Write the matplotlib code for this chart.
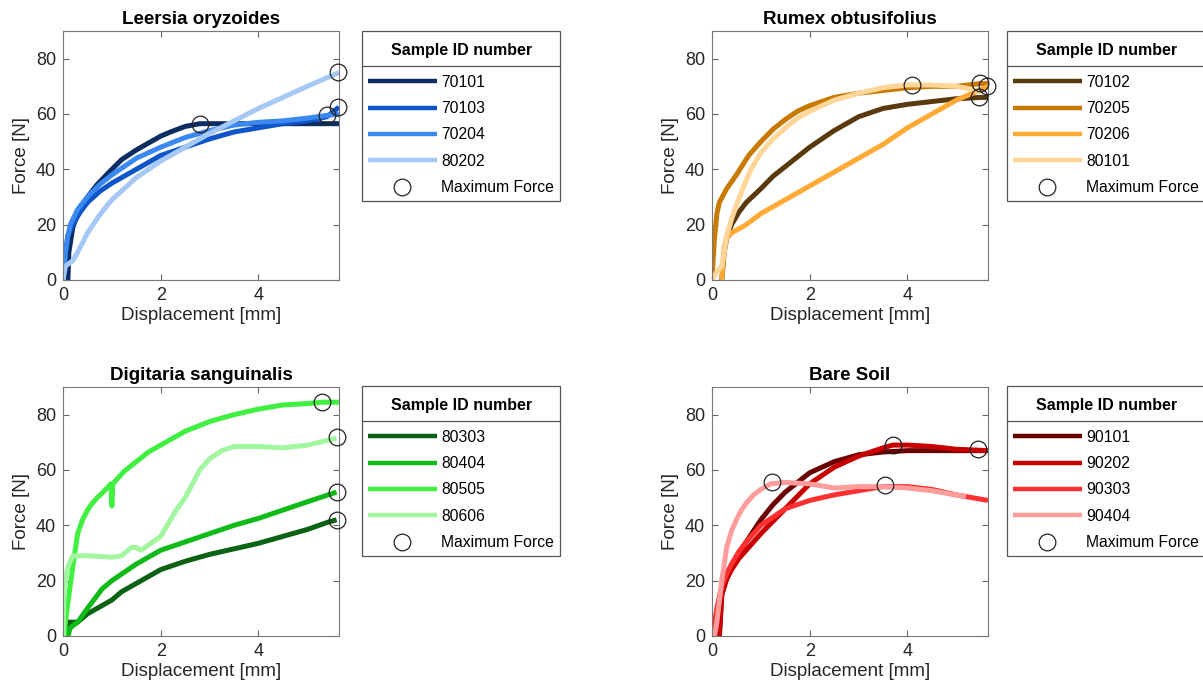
import matplotlib
matplotlib.use('Agg')
import matplotlib.pyplot as plt
from matplotlib.lines import Line2D

plt.rcParams['font.family'] = ['Liberation Sans', 'DejaVu Sans']

# Leersia oryzoides
lo_ids = ['70101', '70103', '70204', '80202']
lo_colors = ['#0b2d62', '#0d55c8', '#3a88f2', '#a6c8f6']
lo_70101_x = [0.1, 0.12, 0.2, 0.3, 0.5, 0.7, 1.0, 1.2, 1.5, 2.0, 2.2, 2.5, 2.8, 3.5, 4.5, 5.65]
lo_70101_y = [0, 10, 19, 24, 30, 34.5, 40, 43.5, 47, 52, 53.5, 55.5, 56.5, 56.5, 56.5, 56.5]
lo_70103_x = [0, 0.05, 0.1, 0.2, 0.35, 0.5, 0.75, 1.0, 1.5, 2.0, 2.5, 3.0, 3.5, 4.0, 4.5, 5.0, 5.4, 5.65]
lo_70103_y = [0, 10, 16, 20, 24.5, 28, 32, 35, 40, 45, 48, 51, 53.5, 55, 56.5, 57.5, 59, 62.5]
lo_70204_x = [0, 0.05, 0.1, 0.15, 0.3, 0.5, 0.75, 1.0, 1.5, 2.0, 2.5, 3.0, 3.5, 4.0, 4.5, 5.0, 5.4, 5.65]
lo_70204_y = [0, 10, 16, 20, 25.5, 30, 34.5, 38, 44, 48, 51.5, 54, 56, 57, 57.5, 58.5, 59.5, 60]
lo_80202_x = [0, 0.05, 0.2, 0.3, 0.4, 0.5, 0.75, 1.0, 1.5, 2.0, 2.5, 3.0, 3.5, 4.0, 4.5, 5.0, 5.65]
lo_80202_y = [0, 5, 7, 10, 13.5, 17, 23.5, 29, 37, 43, 48, 53, 57.5, 62, 66, 70, 75]
lo_max_x = [2.8, 5.63, 5.4, 5.63]
lo_max_y = [56.5, 62.5, 59.5, 75.3]

# Rumex obtusifolius
ro_ids = ['70102', '70205', '70206', '80101']
ro_colors = ['#5a3a0c', '#c87a00', '#ffaa35', '#ffd598']
ro_70102_x = [0.2, 0.25, 0.3, 0.4, 0.55, 0.7, 1.0, 1.25, 1.5, 2.0, 2.5, 3.0, 3.5, 4.0, 4.5, 5.0, 5.5, 5.65]
ro_70102_y = [0, 10, 15, 20, 24.5, 28, 33, 37.5, 41, 48, 54, 59, 62, 63.5, 64.5, 65.5, 66, 66]
ro_70205_x = [0, 0.05, 0.1, 0.15, 0.3, 0.5, 0.75, 1.0, 1.25, 1.5, 1.75, 2.0, 2.5, 3.0, 3.5, 4.0, 4.5, 5.0, 5.5, 5.65]
ro_70205_y = [0, 15, 24, 28, 33, 38, 45, 50, 54.5, 58, 61, 63, 66, 67.5, 68.5, 69.5, 70, 70, 71, 71]
ro_70206_x = [0.2, 0.25, 0.3, 0.4, 0.7, 1.0, 1.5, 2.0, 2.5, 3.0, 3.5, 4.0, 4.5, 5.0, 5.4, 5.65]
ro_70206_y = [0, 12, 15, 17, 20, 24, 29, 34, 39, 44, 49, 55, 60, 65, 68, 70]
ro_80101_x = [0, 0.1, 0.2, 0.25, 0.3, 0.4, 0.5, 0.65, 0.8, 1.0, 1.25, 1.5, 1.75, 2.0, 2.5, 3.0, 3.5, 4.0, 4.5, 5.0, 5.3, 5.5]
ro_80101_y = [0, 3, 5, 10, 16, 22, 27, 34, 40, 46, 51, 55, 58.5, 61, 65, 67.5, 69.5, 70.5, 70.5, 70, 69, 68]
ro_max_x = [5.46, 5.49, 5.63, 4.1]
ro_max_y = [66, 71.2, 70.2, 70.6]

# Digitaria sanguinalis
ds_ids = ['80303', '80404', '80505', '80606']
ds_colors = ['#0a6212', '#10ba18', '#40f040', '#a2f6a0']
ds_80303_x = [0.1, 0.1, 0.3, 0.5, 0.8, 1.0, 1.2, 1.5, 1.7, 2.0, 2.5, 3.0, 3.5, 4.0, 4.5, 5.0, 5.4, 5.6]
ds_80303_y = [0, 5, 5, 8, 11, 13, 16, 19, 21, 24, 27, 29.5, 31.5, 33.5, 36, 38.5, 41, 42]
ds_80404_x = [0.1, 0.15, 0.3, 0.5, 0.8, 1.0, 1.5, 2.0, 2.5, 3.0, 3.5, 4.0, 4.5, 5.0, 5.6]
ds_80404_y = [0, 3, 5, 10, 17, 20, 26, 31, 34, 37, 40, 42.5, 45.5, 48.5, 52]
ds_80505_x = [0.02, 0.05, 0.1, 0.2, 0.3, 0.4, 0.5, 0.6, 0.7, 0.85, 0.98, 1.0, 1.02, 1.25, 1.5, 1.75, 2.0, 2.5, 3.0, 3.5, 4.0, 4.5, 5.0, 5.3, 5.65]
ds_80505_y = [0, 5, 12, 25, 37, 42, 45.5, 48, 50, 52.5, 55, 47, 55, 59.5, 63, 66.5, 69, 74, 77.5, 80, 82, 83.5, 84, 84.5, 84.5]
ds_80606_x = [0, 0.02, 0.05, 0.1, 0.2, 0.5, 1.0, 1.2, 1.4, 1.5, 1.6, 2.0, 2.3, 2.5, 2.8, 3.0, 3.25, 3.5, 4.0, 4.5, 5.0, 5.6]
ds_80606_y = [0, 15, 21, 25, 29, 29, 28.5, 29, 32, 32, 31, 36, 45, 50, 60, 64, 67, 68.5, 68.5, 68, 69, 71.5]
ds_max_x = [5.6, 5.6, 5.3, 5.6]
ds_max_y = [42, 52, 84.5, 71.8]

# Bare Soil
bs_ids = ['90101', '90202', '90303', '90404']
bs_colors = ['#6b0000', '#c80000', '#ff3030', '#ff9c9c']
bs_90101_x = [0.15, 0.2, 0.3, 0.4, 0.55, 0.7, 1.0, 1.25, 1.5, 2.0, 2.5, 3.0, 3.5, 4.0, 4.5, 5.0, 5.65]
bs_90101_y = [0, 15, 21, 25, 30, 34, 42, 47.5, 52, 59, 63, 65.5, 66.5, 67, 67, 67, 67]
bs_90202_x = [0.15, 0.2, 0.3, 0.4, 0.55, 0.7, 1.0, 1.5, 2.0, 2.5, 3.0, 3.5, 3.7, 4.0, 4.5, 5.0, 5.65]
bs_90202_y = [0, 15, 20.5, 24, 28, 31, 37, 46, 55, 61, 65, 68, 69, 69, 68.5, 67.5, 67]
bs_90303_x = [0, 0.05, 0.1, 0.2, 0.3, 0.4, 0.55, 0.7, 1.0, 1.5, 2.0, 2.5, 3.0, 3.5, 4.0, 4.5, 5.0, 5.65]
bs_90303_y = [0, 5, 10, 18, 22.5, 26, 30.5, 34, 40, 46, 49, 51, 52.5, 54, 54, 53, 51, 49]
bs_90404_x = [0.05, 0.1, 0.2, 0.3, 0.4, 0.5, 0.6, 0.7, 0.85, 1.0, 1.2, 1.5, 2.0, 2.5, 3.0, 3.5, 4.0, 4.5, 5.0, 5.2]
bs_90404_y = [0, 5, 20, 32, 38, 42, 45.5, 48, 51, 53, 55, 55.5, 55, 53.5, 54, 54, 53.5, 52.5, 51, 50.5]
bs_max_x = [5.45, 3.7, 3.55, 1.22]
bs_max_y = [67.5, 69.2, 54.5, 55.6]

panels = [
    ('Leersia oryzoides', lo_ids, lo_colors,
     [(lo_70101_x, lo_70101_y), (lo_70103_x, lo_70103_y), (lo_70204_x, lo_70204_y), (lo_80202_x, lo_80202_y)],
     lo_max_x, lo_max_y),
    ('Rumex obtusifolius', ro_ids, ro_colors,
     [(ro_70102_x, ro_70102_y), (ro_70205_x, ro_70205_y), (ro_70206_x, ro_70206_y), (ro_80101_x, ro_80101_y)],
     ro_max_x, ro_max_y),
    ('Digitaria sanguinalis', ds_ids, ds_colors,
     [(ds_80303_x, ds_80303_y), (ds_80404_x, ds_80404_y), (ds_80505_x, ds_80505_y), (ds_80606_x, ds_80606_y)],
     ds_max_x, ds_max_y),
    ('Bare Soil', bs_ids, bs_colors,
     [(bs_90101_x, bs_90101_y), (bs_90202_x, bs_90202_y), (bs_90303_x, bs_90303_y), (bs_90404_x, bs_90404_y)],
     bs_max_x, bs_max_y),
]

W, H = 1203, 695
fig = plt.figure(figsize=(W / 100, H / 100), dpi=100)

# axes boxes in pixels: left, top
ax_pos = [(63, 31), (712, 31), (63, 387), (712, 387)]
leg_pos = [(362, 31), (1007, 31), (362, 386), (1007, 386)]
ax_w, ax_h = 276, 249

legends = []
for (title, ids, colors, curves, mx, my), (l, t), (ll, lt) in zip(panels, ax_pos, leg_pos):
    ax = fig.add_axes([l / W, 1 - (t + ax_h) / H, ax_w / W, ax_h / H])
    for (x, y), c, lab in zip(curves, colors, ids):
        ax.plot(x, y, color=c, lw=3.6, label=lab, solid_capstyle='butt')
    ax.plot(mx, my, 'o', ms=12, mfc='none', mec='#222222', mew=0.9,
            label='Maximum Force', clip_on=False, zorder=5)
    ax.set_xlim(0, 5.65)
    ax.set_ylim(0, 90)
    ax.set_xticks([0, 2, 4])
    ax.set_yticks([0, 20, 40, 60, 80])
    ax.set_title(title, fontsize=13.5, fontweight='bold', pad=5)
    ax.set_xlabel('Displacement [mm]', fontsize=13.5, color='#262626', labelpad=2)
    ax.set_ylabel('Force [N]', fontsize=13.5, color='#262626', labelpad=4)
    ax.tick_params(direction='in', top=True, right=True, length=4, width=0.8,
                   color='#666666', labelcolor='#262626', labelsize=13, pad=5)
    for s in ax.spines.values():
        s.set_color('#777777')
        s.set_linewidth(0.8)
    leg = ax.legend(loc='upper left', bbox_to_anchor=(ll / W, 1 - lt / H),
                    bbox_transform=fig.transFigure, borderaxespad=0,
                    title='\nSample ID number\n', fontsize=11.3,
                    title_fontproperties={'weight': 'bold', 'size': 11.5},
                    handlelength=4.35, handletextpad=0.3, labelspacing=0.72,
                    borderpad=0.4, fancybox=False, framealpha=1, edgecolor='#555555')
    leg.get_title().set_linespacing(0.22)
    leg.get_frame().set_linewidth(0.9)
    for ln in leg.get_lines()[:4]:
        ln.set_linewidth(3.2)
    legends.append(leg)

# divider line under each legend title
fig.canvas.draw()
inv = fig.transFigure.inverted()
for leg in legends:
    fb = leg.get_frame().get_window_extent()
    tb = leg.get_title().get_window_extent()
    eb = leg.get_texts()[0].get_window_extent()
    yd = 0.5 * (0.5 * (tb.y0 + tb.y1) + 0.5 * (eb.y0 + eb.y1))
    p0 = inv.transform((fb.x0, yd))
    p1 = inv.transform((fb.x1, yd))
    fig.add_artist(Line2D([p0[0], p1[0]], [p0[1], p1[1]], transform=fig.transFigure,
                          color='#555555', lw=0.9))

fig.savefig('out.png', dpi=100)
